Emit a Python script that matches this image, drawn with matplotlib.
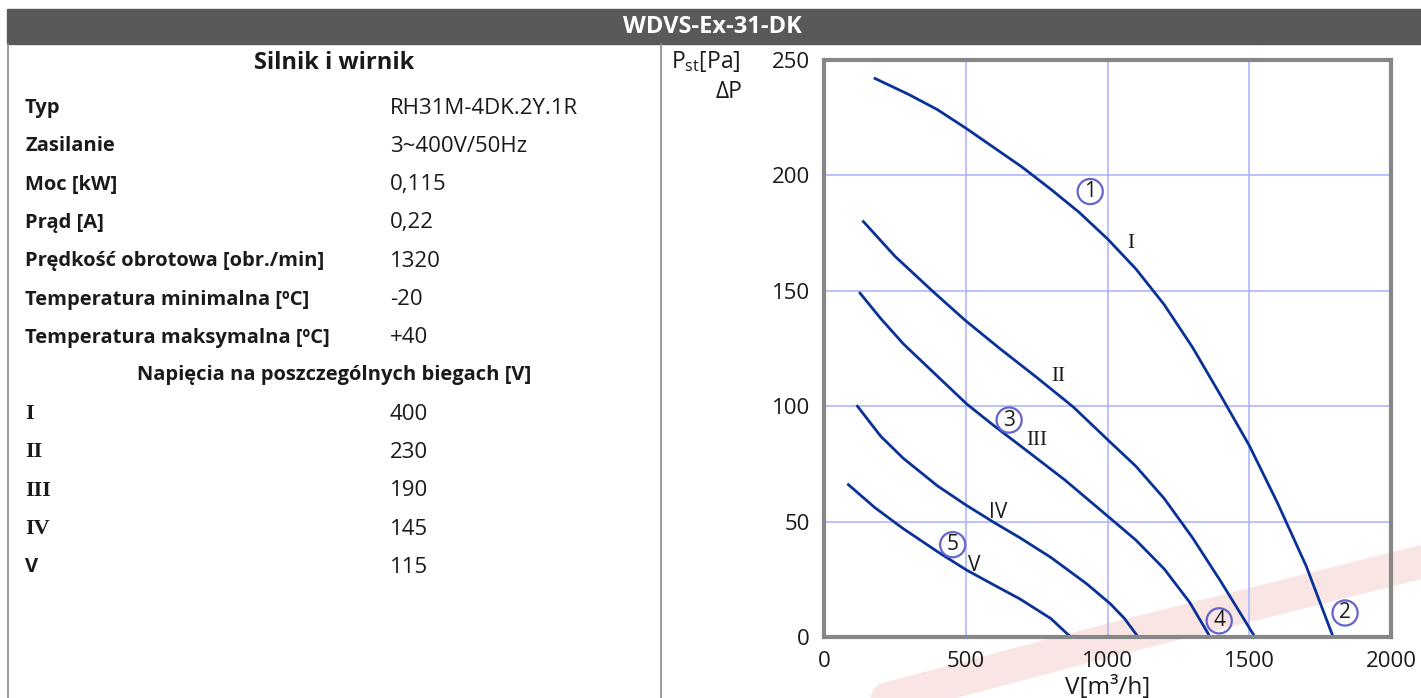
import numpy as np
import matplotlib.pyplot as plt
from matplotlib.lines import Line2D

plt.rcParams['font.family'] = ['Open Sans', 'DejaVu Sans']
plt.rcParams['mathtext.default'] = 'regular'

# dane tabeli
labels = ['Typ', 'Zasilanie', 'Moc [kW]', 'Prąd [A]', 'Prędkość obrotowa [obr./min]',
          'Temperatura minimalna [ºC]', 'Temperatura maksymalna [ºC]']
values = ['RH31M-4DK.2Y.1R', '3~400V/50Hz', '0,115', '0,22', '1320', '-20', '+40']
gears = ['I', 'II', 'III', 'IV', 'V']
voltages = ['400', '230', '190', '145', '115']

# krzywe wentylatora (V [m3/h], Pst [Pa])
v1 = [180, 300, 400, 500, 600, 700, 800, 900, 1000, 1100, 1200, 1300, 1400, 1500, 1600, 1700, 1796]
p1 = [242, 235, 228.5, 220.5, 212, 203.5, 194, 184, 172.5, 159.5, 144, 125.5, 104.5, 83, 58, 31, 0]
v2 = [139, 250, 386, 500, 620, 750, 879, 1009, 1100, 1200, 1300, 1400, 1520]
p2 = [180, 165, 149.5, 137, 125, 112.5, 99.7, 84.5, 74, 60, 43, 24, 0]
v3 = [127, 200, 280, 400, 503, 600, 691, 850, 1009, 1100, 1200, 1290, 1362]
p3 = [149, 138, 127, 113, 101, 91.5, 83, 68, 51.5, 42, 29.5, 15, 0]
v4 = [118, 200, 279, 400, 503, 600, 691, 800, 927, 1009, 1060, 1108]
p4 = [100, 87, 77.5, 65.5, 57, 49.6, 43, 34.5, 23, 14.5, 8, 0]
v5 = [86, 180, 279, 400, 503, 600, 691, 800, 870]
p5 = [66, 56, 47, 37, 29, 22.5, 16.5, 8, 0]
curves = [(v1, p1), (v2, p2), (v3, p3), (v4, p4), (v5, p5)]

# etykiety na wykresie
roman_pos = [(1082, 170.5), (826, 112.7), (751, 85), (614, 54), (529, 31)]
circ_nums = ['1', '2', '3', '4', '5']
circ_pos = [(939, 193), (1838, 10.4), (653, 94), (1394, 7), (454, 40)]

W, H = 1421, 698
fig = plt.figure(figsize=(W / 100, H / 100), dpi=100)

# tło + znak wodny
bg = fig.add_axes([0, 0, 1, 1])
bg.set_xlim(0, W)
bg.set_ylim(H, 0)
bg.axis('off')
bg.plot([740, 1110, 1421], [738, 640, 562], color='#eaa89e', lw=24, alpha=0.28,
        solid_capstyle='round')

# pasek tytułu
bg.add_patch(plt.Rectangle((7, 9), W - 7, 35, color='#58595b'))
bg.text(712, 27, 'WDVS-Ex-31-DK', color='white', fontsize=17, fontweight='bold',
        ha='center', va='center')
bg.add_line(Line2D([7.5, 7.5], [44, H], color='#8c8c8c', lw=1.2))
bg.add_line(Line2D([661, 661], [44, H], color='#8c8c8c', lw=1.2))

# tabela
bg.text(334, 63, 'Silnik i wirnik', fontsize=17, fontweight='bold', ha='center', va='center',
        color='#1a1a1a')
y = 108
for lab, val in zip(labels, values):
    bg.text(25, y, lab, fontsize=14.5, fontweight='bold', va='center', color='#1a1a1a')
    bg.text(390, y, val, fontsize=16, va='center', color='#1a1a1a')
    y += 38.3
bg.text(334, y - 1, 'Napięcia na poszczególnych biegach [V]', fontsize=14.5, fontweight='bold',
        ha='center', va='center', color='#1a1a1a')
y += 38
for g, u in zip(gears, voltages):
    fam = ['Open Sans'] if g == 'V' else ['Liberation Serif']
    bg.text(25, y, g, fontsize=16 if g != 'V' else 14.5, fontweight='bold', va='center',
            color='#1a1a1a', family=fam)
    bg.text(390, y, u, fontsize=16, va='center', color='#1a1a1a')
    y += 38.3

# wykres
ax = fig.add_axes([824 / W, 1 - 637 / H, (1391 - 824) / W, (637 - 60) / H])
ax.set_xlim(0, 2000)
ax.set_ylim(0, 250)
ax.patch.set_alpha(0)
ax.set_xticks([0, 500, 1000, 1500, 2000])
ax.set_yticks([0, 50, 100, 150, 200, 250])
ax.grid(True, color='#aab0ff', lw=1.1)
ax.tick_params(length=0, labelsize=16, colors='#1a1a1a', pad=10)
for s in ax.spines.values():
    s.set_color('#878787')
    s.set_linewidth(3)
for v, p in curves:
    ax.plot(v, p, color='#0a3296', lw=2)
for txt, (x, yy) in zip(gears, roman_pos):
    fam = ['Liberation Serif'] if txt in ('I', 'II', 'III') else ['Open Sans']
    ax.text(x, yy, txt, fontsize=15, ha='center', va='center', color='#1a1a1a', family=fam)
for txt, (x, yy) in zip(circ_nums, circ_pos):
    ax.text(x, yy, txt, fontsize=15, ha='center', va='center', color='#1a1a1a',
            bbox=dict(boxstyle='circle,pad=0.1', fc='none', ec='#6464cc', lw=1.6))

bg.text(706, 62, r'P$_{st}$[Pa]', fontsize=16.5, ha='center', va='center', color='#1a1a1a')
bg.text(729, 92, 'ΔP', fontsize=16.5, ha='center', va='center', color='#1a1a1a')
bg.text(1108, 688, 'V[m³/h]', fontsize=17.5, ha='center', va='center', color='#1a1a1a')

fig.savefig('out.png', dpi=100)
